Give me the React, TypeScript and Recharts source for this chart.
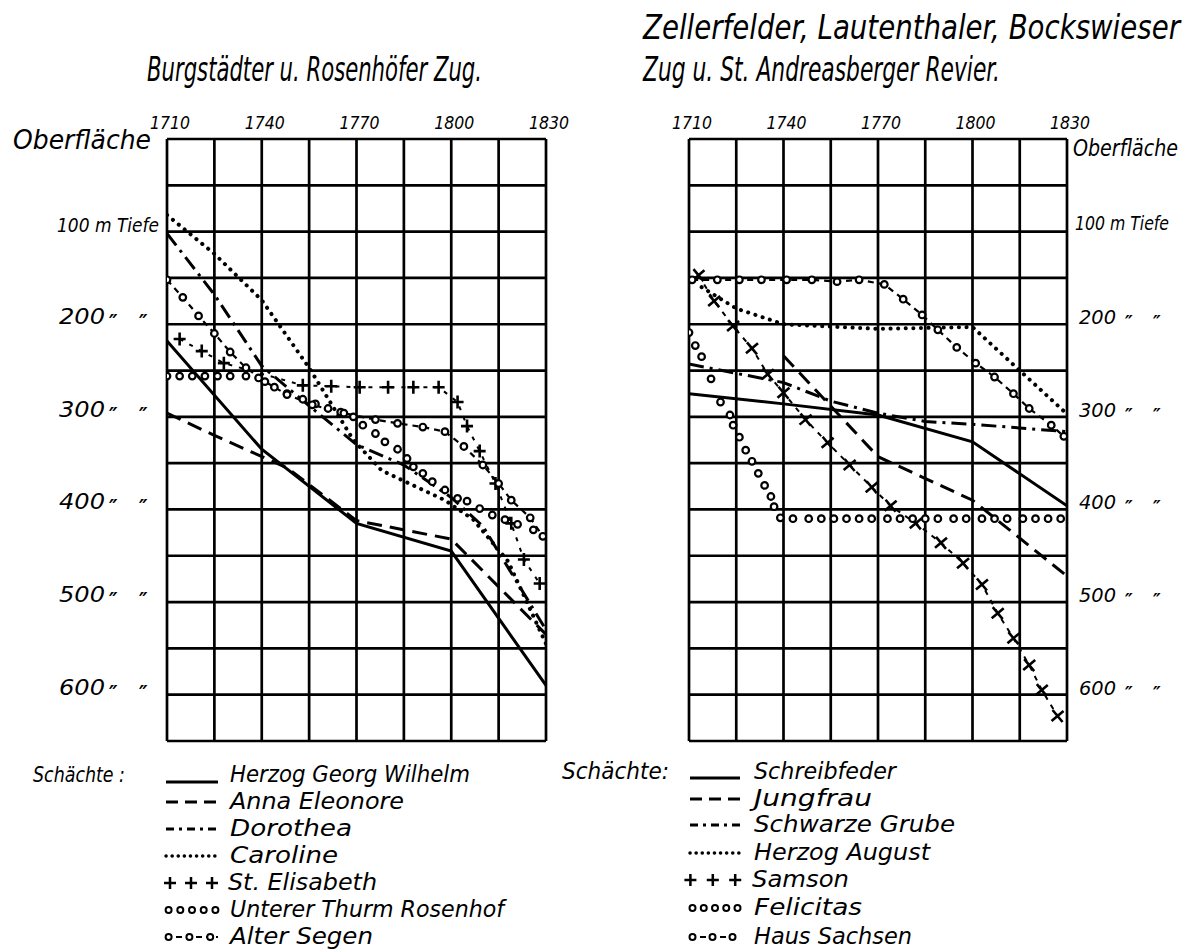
import { LineChart, Line, XAxis, YAxis, CartesianGrid } from 'recharts'

const FONT = "'DejaVu Sans Condensed', 'Liberation Sans Narrow', 'DejaVu Sans', sans-serif"
const INK = '#000'

// axes
const yearTicks = [1710, 1725, 1740, 1755, 1770, 1785, 1800, 1815, 1830]
const labeledYears = [1710, 1740, 1770, 1800, 1830]
const depthTicks = [0, 50, 100, 150, 200, 250, 300, 350, 400, 450, 500, 550, 600, 650]
const labeledDepths = [0, 100, 200, 300, 400, 500, 600]
const depthNumbers = ['Oberfläche', '100 m Tiefe', '200', '300', '400', '500', '600']

// Burgstädter u. Rosenhöfer Zug  [Jahr, Tiefe m]
const herzogGeorgWilhelm = [[1710, 218], [1740, 335], [1770, 415], [1800, 445], [1830, 590]]
const annaEleonore = [[1710, 296], [1725, 320], [1748, 355], [1770, 412], [1800, 432], [1830, 535]]
const dorothea = [[1710, 102], [1725, 168], [1740, 245], [1755, 288], [1770, 330], [1785, 352], [1800, 387], [1810, 418], [1830, 530]]
const caroline = [[1710, 82], [1725, 124], [1740, 174], [1755, 247], [1769, 325], [1778, 358], [1798, 390], [1807, 411], [1818, 456], [1830, 545]]
const stElisabeth = [
  [1714, 216], [1721, 229], [1728, 242], [1753, 266], [1762, 267], [1771, 268], [1780, 268], [1788, 268],
  [1796, 268], [1802, 284], [1805, 310], [1809, 337], [1814, 372], [1819, 415], [1823, 454], [1828, 480],
]
const untererThurmRosenhof = [
  [1710, 256], [1714, 256], [1718, 256], [1722, 256], [1726, 256], [1730, 256], [1735, 256], [1739, 258],
  [1744, 268], [1748, 275], [1753, 281], [1757, 286], [1761, 291], [1765, 295], [1769, 300], [1772, 309],
  [1776, 318], [1779, 327], [1783, 335], [1786, 345], [1788, 354], [1791, 361], [1794, 370], [1798, 379],
  [1802, 388], [1805, 391], [1809, 399], [1813, 406], [1817, 411], [1821, 416], [1826, 422],
]
const alterSegen = [
  [1710, 152], [1715, 171], [1720, 191], [1725, 210], [1730, 230], [1735, 247], [1741, 262], [1748, 276],
  [1756, 287], [1766, 296], [1776, 303], [1783, 307], [1791, 311], [1798, 316], [1804, 332], [1810, 352],
  [1815, 372], [1819, 390], [1825, 409], [1829, 429],
]

// Zellerfelder, Lautenthaler, Bockswieser Zug u. St. Andreasberger Revier
const schreibfeder = [[1710, 275], [1740, 286], [1770, 298], [1800, 327], [1830, 396]]
const jungfrau = [[1740, 234], [1770, 343], [1800, 390], [1830, 472]]
const schwarzeGrube = [[1710, 243], [1725, 253], [1740, 263], [1755, 283], [1770, 296], [1785, 305], [1800, 308], [1830, 316]]
const herzogAugust = [[1714, 160], [1725, 183], [1740, 200], [1770, 205], [1800, 203], [1815, 250], [1830, 297]]
const samson = [
  [1713, 147], [1718, 175], [1724, 202], [1730, 226], [1735, 254], [1740, 274], [1747, 303], [1754, 328],
  [1761, 352], [1768, 376], [1774, 396], [1782, 415], [1790, 436], [1797, 458], [1803, 481], [1808, 512],
  [1813, 539], [1818, 568], [1822, 595], [1827, 623],
]
const felicitas = [
  [1710, 209], [1712, 223], [1714, 235], [1717, 259], [1720, 284], [1723, 298], [1724, 309], [1726, 322],
  [1728, 336], [1730, 348], [1732, 361], [1734, 374], [1736, 386], [1737, 397], [1739, 409], [1743, 410],
  [1748, 410], [1752, 410], [1756, 410], [1760, 410], [1764, 410], [1768, 410], [1773, 410], [1777, 410],
  [1781, 410], [1785, 410], [1789, 410], [1794, 410], [1798, 410], [1803, 410], [1807, 410], [1811, 410],
  [1816, 410], [1820, 410], [1824, 410], [1828, 410],
]
const hausSachsen = [
  [1711, 152], [1719, 152], [1726, 152], [1733, 152], [1741, 152], [1749, 152], [1757, 154], [1764, 152],
  [1772, 157], [1778, 173], [1784, 190], [1789, 206], [1795, 225], [1801, 242], [1807, 257], [1813, 275],
  [1818, 291], [1825, 309], [1829, 321],
]

type Kind = 'solid' | 'dash' | 'dashdot' | 'dot' | 'plus' | 'cross' | 'rings' | 'ringdash'
interface Series {
  name: string
  rows: number[][]
  kind: Kind
}

const leftSeries: Series[] = [
  { name: 'Herzog Georg Wilhelm', rows: herzogGeorgWilhelm, kind: 'solid' },
  { name: 'Anna Eleonore', rows: annaEleonore, kind: 'dash' },
  { name: 'Dorothea', rows: dorothea, kind: 'dashdot' },
  { name: 'Caroline', rows: caroline, kind: 'dot' },
  { name: 'St. Elisabeth', rows: stElisabeth, kind: 'plus' },
  { name: 'Unterer Thurm Rosenhof', rows: untererThurmRosenhof, kind: 'rings' },
  { name: 'Alter Segen', rows: alterSegen, kind: 'ringdash' },
]
const rightSeries: Series[] = [
  { name: 'Schreibfeder', rows: schreibfeder, kind: 'solid' },
  { name: 'Jungfrau', rows: jungfrau, kind: 'dash' },
  { name: 'Schwarze Grube', rows: schwarzeGrube, kind: 'dashdot' },
  { name: 'Herzog August', rows: herzogAugust, kind: 'dot' },
  { name: 'Samson', rows: samson, kind: 'cross' },
  { name: 'Felicitas', rows: felicitas, kind: 'rings' },
  { name: 'Haus Sachsen', rows: hausSachsen, kind: 'ringdash' },
]

const txt = { fontFamily: FONT, fontStyle: 'italic' as const, fill: INK }
const fit = { lengthAdjust: 'spacingAndGlyphs' as const }

const plusDot = (p: any) => (
  <path key={`p${p.index}`} d={`M${p.cx - 6},${p.cy}H${p.cx + 6}M${p.cx},${p.cy - 6.5}V${p.cy + 6.5}`} stroke={INK} strokeWidth={2.6} />
)
const crossDot = (p: any) => (
  <path key={`x${p.index}`} d={`M${p.cx - 5},${p.cy - 6}L${p.cx + 5},${p.cy + 6}M${p.cx + 6},${p.cy - 5}L${p.cx - 6},${p.cy + 5}`} stroke={INK} strokeWidth={2.6} />
)
const ringDot = (p: any) => (
  <circle key={`o${p.index}`} cx={p.cx} cy={p.cy} r={3.3} fill="#fff" stroke={INK} strokeWidth={2.2} />
)

function renderSeries(s: Series) {
  const data = s.rows.map(([year, depth]) => ({ year, depth }))
  const base = {
    data,
    dataKey: 'depth',
    name: s.name,
    type: 'linear' as const,
    isAnimationActive: false,
    activeDot: false,
    stroke: INK,
    strokeWidth: 3,
  }
  switch (s.kind) {
    case 'solid':
      return <Line key={s.name} {...base} dot={false} />
    case 'dash':
      return <Line key={s.name} {...base} strokeDasharray="15 8" dot={false} />
    case 'dashdot':
      return <Line key={s.name} {...base} strokeDasharray="15 6 3 6" dot={false} />
    case 'dot':
      return <Line key={s.name} {...base} strokeWidth={4} strokeLinecap="round" strokeDasharray="0.1 7.5" dot={false} />
    case 'plus':
      return <Line key={s.name} {...base} strokeWidth={2} strokeDasharray="4 7" dot={plusDot} />
    case 'cross':
      return <Line key={s.name} {...base} strokeWidth={2} strokeDasharray="5 6" dot={crossDot} />
    case 'rings':
      return <Line key={s.name} {...base} stroke="none" dot={ringDot} />
    default:
      return <Line key={s.name} {...base} strokeWidth={2.2} strokeDasharray="6 5" dot={ringDot} />
  }
}

const YearTick = (p: any) => {
  const v = p.payload?.value
  if (!labeledYears.includes(v)) return <g />
  return (
    <text x={p.x + 3} y={p.y - 10} textAnchor="middle" fontSize={18} textLength={40} {...fit} {...txt}>
      {v}
    </text>
  )
}

// two ditto marks after the number
const Ditto = ({ x1, x2, y, size }: { x1: number; x2: number; y: number; size: number }) => (
  <g>
    <text x={x1} y={y} fontSize={size} fontWeight="bold" {...txt}>″</text>
    <text x={x2} y={y} fontSize={size} fontWeight="bold" {...txt}>″</text>
  </g>
)

const LeftDepthTick = (p: any) => {
  const i = labeledDepths.indexOf(p.payload?.value)
  if (i < 0) return <g />
  if (i === 0)
    return (
      <text x={p.x - 154} y={p.y + 10} fontSize={26} textLength={138} {...fit} {...txt}>
        {depthNumbers[i]}
      </text>
    )
  if (i === 1)
    return (
      <text x={p.x - 110} y={p.y} fontSize={19} textLength={102} {...fit} {...txt}>
        {depthNumbers[i]}
      </text>
    )
  return (
    <g>
      <text x={p.x - 108} y={p.y} fontSize={22} textLength={46} {...fit} {...txt}>
        {depthNumbers[i]}
      </text>
      <Ditto x1={p.x - 58} x2={p.x - 28} y={p.y + 6} size={21} />
    </g>
  )
}

const RightDepthTick = (p: any) => {
  const i = labeledDepths.indexOf(p.payload?.value)
  if (i < 0) return <g />
  if (i === 0)
    return (
      <text x={p.x + 6} y={p.y + 17} fontSize={23} textLength={105} {...fit} {...txt}>
        {depthNumbers[i]}
      </text>
    )
  if (i === 1)
    return (
      <text x={p.x + 8} y={p.y - 2} fontSize={19} textLength={94} {...fit} {...txt}>
        {depthNumbers[i]}
      </text>
    )
  return (
    <g>
      <text x={p.x + 12} y={p.y} fontSize={20} textLength={37} {...fit} {...txt}>
        {depthNumbers[i]}
      </text>
      <Ditto x1={p.x + 58} x2={p.x + 86} y={p.y + 5} size={19} />
    </g>
  )
}

function Panel({ series, right }: { series: Series[]; right?: boolean }) {
  const margin = right ? { top: 109, left: 89, right: 4, bottom: 19 } : { top: 109, left: 7, right: 34, bottom: 19 }
  return (
    <LineChart width={right ? 591 : 580} height={760} margin={margin}>
      <CartesianGrid stroke={INK} strokeWidth={2.7} />
      <XAxis
        type="number"
        dataKey="year"
        orientation="top"
        domain={[1710, 1830]}
        ticks={yearTicks}
        interval={0}
        height={30}
        tickSize={0}
        tickMargin={0}
        axisLine={false}
        tickLine={false}
        tick={<YearTick />}
        allowDataOverflow
      />
      <YAxis
        type="number"
        dataKey="depth"
        orientation={right ? 'right' : 'left'}
        domain={[0, 650]}
        reversed
        ticks={depthTicks}
        interval={0}
        width={right ? 120 : 160}
        tickSize={0}
        tickMargin={0}
        axisLine={false}
        tickLine={false}
        tick={right ? <RightDepthTick /> : <LeftDepthTick />}
        allowDataOverflow
      />
      {series.map(renderSeries)}
    </LineChart>
  )
}

function Sample({ kind, x0, x1, y }: { kind: Kind; x0: number; x1: number; y: number }) {
  const line = (extra: any) => <line x1={x0} x2={x1} y1={y} y2={y} stroke={INK} strokeWidth={3} {...extra} />
  if (kind === 'solid') return line({})
  if (kind === 'dash') return line({ strokeDasharray: '12 7' })
  if (kind === 'dashdot') return line({ strokeDasharray: '8 5 3 5' })
  if (kind === 'dot') return line({ strokeDasharray: '0.1 6', strokeLinecap: 'round', strokeWidth: 3.5 })
  const w = x1 - x0
  if (kind === 'plus' || kind === 'cross') {
    return (
      <g>
        {[0.1, 0.45, 0.8].map(f => (
          <path key={f} d={`M${x0 + f * w - 6},${y}H${x0 + f * w + 6}M${x0 + f * w},${y - 6}V${y + 6}`} stroke={INK} strokeWidth={2.5} />
        ))}
      </g>
    )
  }
  if (kind === 'rings') {
    return (
      <g>
        {[0.05, 0.275, 0.5, 0.725, 0.95].map(f => (
          <circle key={f} cx={x0 + f * w} cy={y} r={3} fill="#fff" stroke={INK} strokeWidth={2} />
        ))}
      </g>
    )
  }
  return (
    <g>
      <line x1={x0} x2={x1} y1={y} y2={y} stroke={INK} strokeWidth={2} strokeDasharray="6 4" />
      {[0.05, 0.45, 0.85].map(f => (
        <circle key={f} cx={x0 + f * w} cy={y} r={3} fill="#fff" stroke={INK} strokeWidth={2} />
      ))}
    </g>
  )
}

// heading squeezed horizontally, so the condensed look of the original lettering is kept
const Heading = ({ x, y, width, squeeze, children }: { x: number; y: number; width: number; squeeze: number; children: string }) => (
  <g transform={`translate(${x},${y}) scale(${squeeze},1)`}>
    <text x={0} y={0} fontSize={34} textLength={width / squeeze} {...fit} {...txt}>
      {children}
    </text>
  </g>
)

function Overlay() {
  const leftRows = [782, 809, 836, 863, 890, 917, 944]
  const leftLens = [240, 174, 122, 108, 149, 274, 143]
  const rightRows = [779, 806, 832, 860, 887, 915, 944]
  const rightLens = [142, 118, 201, 176, 97, 108, 158]
  return (
    <svg width={1191} height={952} style={{ position: 'absolute', left: 0, top: 0 }}>
      <Heading x={147} y={81} width={335} squeeze={0.62}>Burgstädter u. Rosenhöfer Zug.</Heading>
      <Heading x={643} y={39} width={537} squeeze={0.76}>Zellerfelder, Lautenthaler, Bockswieser</Heading>
      <Heading x={643} y={81} width={357} squeeze={0.62}>Zug u. St. Andreasberger Revier.</Heading>

      <text x={33} y={782} fontSize={22} textLength={92} {...fit} {...txt}>
        Schächte :
      </text>
      {leftSeries.map((s, i) => (
        <g key={s.name}>
          <Sample kind={s.kind} x0={s.kind === 'plus' ? 164 : 166} x1={s.kind === 'plus' ? 224 : 218} y={i === 0 ? leftRows[i] : leftRows[i] - 7} />
          <text x={s.kind === 'plus' ? 228 : 230} y={leftRows[i]} fontSize={23} textLength={leftLens[i]} {...fit} {...txt}>
            {s.name}
          </text>
        </g>
      ))}

      <text x={562} y={779} fontSize={23} textLength={107} {...fit} {...txt}>
        Schächte:
      </text>
      {rightSeries.map((s, i) => (
        <g key={s.name}>
          <Sample kind={s.kind} x0={s.kind === 'cross' ? 684 : 690} x1={s.kind === 'cross' ? 748 : 740} y={i === 0 ? rightRows[i] - 1 : rightRows[i] - 7} />
          <text x={s.kind === 'cross' ? 752 : 754} y={rightRows[i]} fontSize={23} textLength={rightLens[i]} {...fit} {...txt}>
            {s.name}
          </text>
        </g>
      ))}
    </svg>
  )
}

export default function App() {
  return (
    <div style={{ position: 'absolute', left: 0, top: 0, width: 1191, height: 952, background: '#fff' }}>
      <Overlay />
      <div style={{ position: 'absolute', left: 0, top: 0 }}>
        <Panel series={leftSeries} />
      </div>
      <div style={{ position: 'absolute', left: 600, top: 0 }}>
        <Panel series={rightSeries} right />
      </div>
    </div>
  )
}
